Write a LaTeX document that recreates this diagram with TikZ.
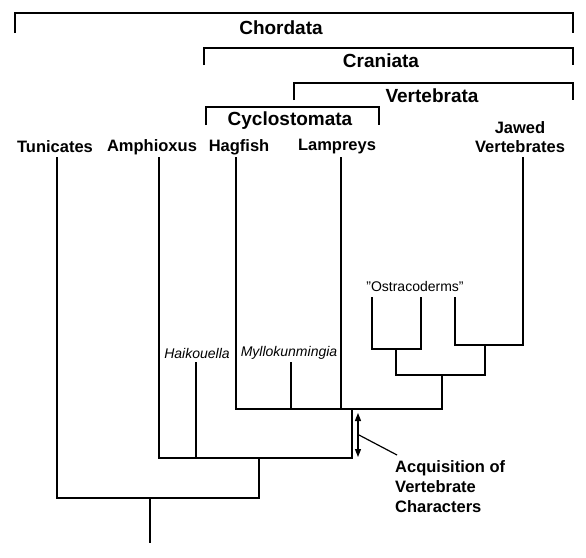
\documentclass[tikz,border=0pt]{standalone}
\usepackage{fontspec}
\setmainfont{Liberation Sans}
\usetikzlibrary{arrows.meta}
\tikzset{
  tree/.style={line width=2pt, line join=miter, line cap=rect},
  br/.style={line width=1.5pt, line join=miter},
  grp/.style={font=\fontsize{19}{22}\selectfont\bfseries, inner sep=0pt},
  taxon/.style={font=\fontsize{16.5}{20}\selectfont\bfseries, inner sep=0pt, align=center},
  fossil/.style={font=\fontsize{14}{16}\selectfont\itshape, inner sep=0pt},
  note/.style={font=\fontsize{14}{16}\selectfont, inner sep=0pt},
  lead/.style={line width=1.2pt},
}
\begin{document}
\begin{tikzpicture}[x=1pt,y=-1pt]
\useasboundingbox (0,0) rectangle (586,557);
% group brackets
\coordinate (chL) at (15,33);  \coordinate (chR) at (573,13);  \coordinate (chRb) at (573,33);
\coordinate (crL) at (204,65); \coordinate (crR) at (573,48);  \coordinate (crRb) at (573,65);
\coordinate (veL) at (294,100); \coordinate (veR) at (573,83); \coordinate (veRb) at (573,100);
\coordinate (cyL) at (206,125); \coordinate (cyR) at (379,107); \coordinate (cyRb) at (379,125);
\draw[br] (chL) |- (chR) -- (chRb);
\draw[br] (crL) |- (crR) -- (crRb);
\draw[br] (veL) |- (veR) -- (veRb);
\draw[br] (cyL) |- (cyR) -- (cyRb);
\node[grp] (chordata) at (281,28) {Chordata};
\node[grp] (craniata) at (381,61) {Craniata};
\node[grp] (vertebrata) at (432,96) {Vertebrata};
\node[grp] (cyclo) at (290,121) {Cyclostomata};
% taxa labels
\node[taxon] (tun) at (55,147) {Tunicates};
\node[taxon] (amph) at (152,147) {Amphioxus};
\node[taxon] (hag) at (239,147) {Hagfish};
\node[taxon] (lam) at (337,147) {Lampreys};
\node[taxon, anchor=south] (jaw) at (520,153) {Jawed\\[-1pt]Vertebrates};
\node[fossil] (haik) at (197,353) {Haikouella};
\node[fossil] (myllo) at (289,353) {Myllokunmingia};
\node[note] (ostra) at (415,286) {"Ostracoderms"};
% tree coordinates
\coordinate (tunT) at (57,158);
\coordinate (amphT) at (159,158);
\coordinate (hagT) at (236,158);
\coordinate (lamT) at (341,158);
\coordinate (jawT) at (523,158);
\coordinate (haikT) at (196,363);
\coordinate (mylT) at (291,363);
\coordinate (n1B) at (259,498); \coordinate (n1) at (259,458);
\coordinate (n2B) at (352,458); \coordinate (n2) at (352,409);
\coordinate (n3B) at (442,409); \coordinate (n3) at (442,375);
\coordinate (n5) at (396,349);
\coordinate (n6B) at (485,375); \coordinate (n6) at (485,345);
\coordinate (ostA) at (372,298); \coordinate (ostBb) at (421,349); \coordinate (ostB) at (421,298);
\coordinate (ostC) at (455,298); \coordinate (jawB) at (523,345);
\coordinate (root) at (150,498); \coordinate (rootE) at (150,542);
% tree
\draw[tree] (tunT) |- (n1B) -- (n1);
\draw[tree] (amphT) |- (n2B) -- (n2);
\draw[tree] (haikT) -- (haikT |- n2B);
\draw[tree] (hagT) |- (n3B) -- (n3);
\draw[tree] (mylT) -- (mylT |- n3B);
\draw[tree] (lamT) -- (lamT |- n3B);
\draw[tree] (n5) |- (n6B) -- (n6);
\draw[tree] (ostA) |- (ostBb) -- (ostB);
\draw[tree] (ostC) |- (jawB) -- (jawT);
\draw[tree] (root) -- (rootE);
% acquisition arrow
\coordinate (arT) at (358,413); \coordinate (arB) at (358,457);
\coordinate (arM) at (359,435);
\draw[line width=1.2pt, {Triangle[length=8pt,width=6pt]}-{Triangle[length=8pt,width=6pt]}] (arT) -- (arB);
\node[taxon, anchor=north west, align=left] (acq) at (395,460) {Acquisition of\\Vertebrate\\Characters};
\coordinate (leadE) at (397,455);
\draw[lead] (arM) -- (leadE);
\end{tikzpicture}
\end{document}
